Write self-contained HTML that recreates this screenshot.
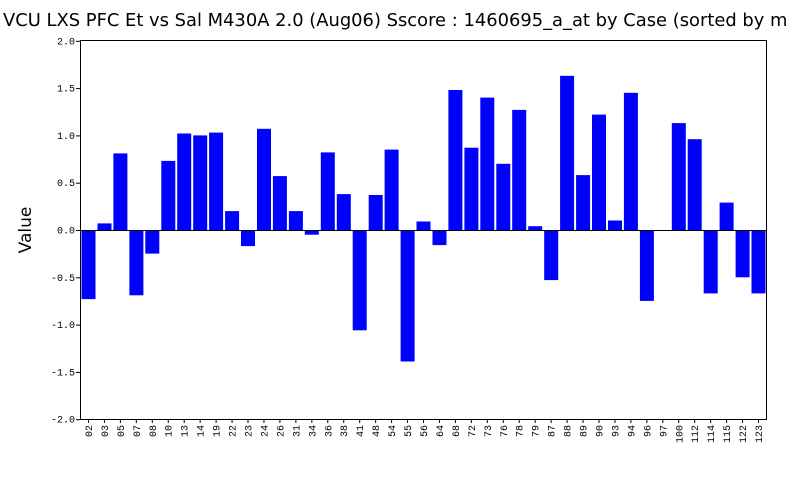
<!DOCTYPE html>
<html><head><meta charset="utf-8"><style>
html,body{margin:0;padding:0;background:#fff;overflow:hidden;}
svg{display:block;font-family:"DejaVu Sans","Liberation Sans",sans-serif;}
</style></head><body>
<svg id="c" width="786" height="500" viewBox="0 0 786 500" xmlns="http://www.w3.org/2000/svg">
<rect width="786" height="500" fill="#fff"/>
<text x="3" y="26" font-size="17.9" fill="#000">VCU LXS PFC Et vs Sal M430A 2.0 (Aug06) Sscore : 1460695_a_at by Case (sorted by mean)</text>
<text transform="translate(31,230) rotate(-90)" text-anchor="middle" font-size="17" fill="#000">Value</text>
<g id="bars" fill="#0000ff"></g>
<g id="axes" stroke="#000" stroke-width="1" fill="none">
<rect x="80.5" y="40.5" width="686" height="379"/>
</g>
<g id="ticks" font-family="'Liberation Mono',monospace" font-size="10" fill="#000"></g>
</svg>
<script>
var cats=["02","03","05","07","08","10","13","14","19","22","23","24","26","31","34","36","38","41","48","54","55","56","64","68","72","73","76","78","79","87","88","89","90","93","94","96","97","100","112","114","115","122","123"];
var vals=[-0.73,0.07,0.81,-0.69,-0.25,0.73,1.02,1.00,1.03,0.20,-0.17,1.07,0.57,0.20,-0.05,0.82,0.38,-1.06,0.37,0.85,-1.39,0.09,-0.16,1.48,0.87,1.40,0.70,1.27,0.04,-0.53,1.63,0.58,1.22,0.10,1.45,-0.75,0.0,1.13,0.96,-0.67,0.29,-0.50,-0.67];
var ns="http://www.w3.org/2000/svg";
var x0=80.5,w=686,y0=230,s=94.6,slot=w/cats.length;
var bars=document.getElementById("bars"),ticks=document.getElementById("ticks"),axes=document.getElementById("axes");
function el(p,t,a){var e=document.createElementNS(ns,t);for(var k in a)e.setAttribute(k,a[k]);p.appendChild(e);return e;}
cats.forEach(function(c,i){
 var v=vals[i],x=x0+i*slot+1,h=Math.abs(v)*s;
 if(h>0)el(bars,"rect",{x:x.toFixed(1),y:(v>0?y0-h:y0).toFixed(1),width:(slot-2).toFixed(1),height:h.toFixed(1)});
 var cx=x0+i*slot+slot/2;
 el(axes,"line",{x1:cx,y1:419.5,x2:cx,y2:423});
 var t=el(ticks,"text",{transform:"translate("+(cx+3.5)+",425) rotate(-90)","text-anchor":"end"});t.textContent=c;
});
el(axes,"line",{x1:80.5,y1:y0+0.5,x2:766.5,y2:y0+0.5});
for(var v=-2;v<=2.001;v+=0.5){
 var y=y0-v*s+0.5;
 el(axes,"line",{x1:76,y1:y,x2:80.5,y2:y});
 var t=el(ticks,"text",{x:75,y:y+3,"text-anchor":"end"});t.textContent=v.toFixed(1);
}
</script>
</body></html>
